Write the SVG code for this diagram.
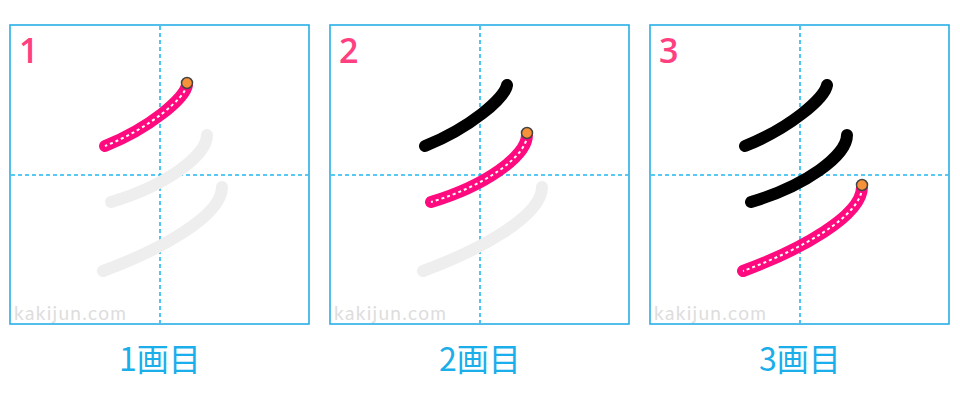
<svg xmlns="http://www.w3.org/2000/svg" width="960" height="408" viewBox="0 0 960 408">
<defs>
<style>
.frame{fill:#fff;stroke:#29aee6;stroke-width:1.6}
.guide{stroke:#22b8f0;stroke-width:1.6;stroke-dasharray:4,3;fill:none}
.gray{stroke:#eeeeee;stroke-width:12;fill:none;stroke-linecap:round}
.done{stroke:#000;stroke-width:12;fill:none;stroke-linecap:round}
.cur{stroke:#ff0a7f;stroke-width:12;fill:none;stroke-linecap:round}
.dash{stroke:#fff;stroke-width:2;fill:none;stroke-dasharray:3,3}
.dot{fill:#f7913a;stroke:#444;stroke-width:1.5}
.num{font-family:"Open Sans","Liberation Sans",sans-serif;font-size:34px;fill:#ff3f7f;font-weight:600}
.wm{font-family:"Lato","Liberation Sans",sans-serif;font-size:19px;fill:#dddddd}
.cap{font-family:"Noto Sans CJK JP","Noto Sans",sans-serif;font-size:32px;fill:#1aaeea}
</style>
<path id="s1" d="M187,85 C185,98 150,128 105,146"/>
<path id="s2" d="M207,135 C207,156 165,186 111,202"/>
<path id="s3" d="M222,187 C222,216 160,250 103,271"/>
</defs>
<rect width="960" height="408" fill="#fff"/>
<g id="panel1">
<rect class="frame" x="10" y="25" width="299" height="299"/>
<line class="guide" x1="160" y1="26" x2="160" y2="323"/>
<line class="guide" x1="11" y1="175" x2="308" y2="175"/>
<text class="wm" x="14" y="320" textLength="112">kakijun.com</text>
<text class="num" x="19" y="63">1</text>
<use href="#s2" class="gray"/>
<use href="#s3" class="gray"/>
<use href="#s1" class="cur"/>
<use href="#s1" class="dash"/>
<circle class="dot" cx="187" cy="83" r="5.5"/>
<text class="cap" x="160" y="371" text-anchor="middle">1画目</text>
</g>
<g id="panel2" transform="translate(320,0)">
<rect class="frame" x="10" y="25" width="299" height="299"/>
<line class="guide" x1="160" y1="26" x2="160" y2="323"/>
<line class="guide" x1="11" y1="175" x2="308" y2="175"/>
<text class="wm" x="14" y="320" textLength="112">kakijun.com</text>
<text class="num" x="19" y="63">2</text>
<use href="#s3" class="gray"/>
<use href="#s1" class="done"/>
<use href="#s2" class="cur"/>
<use href="#s2" class="dash"/>
<circle class="dot" cx="207" cy="133" r="5.5"/>
<text class="cap" x="160" y="371" text-anchor="middle">2画目</text>
</g>
<g id="panel3" transform="translate(640,0)">
<rect class="frame" x="10" y="25" width="299" height="299"/>
<line class="guide" x1="160" y1="26" x2="160" y2="323"/>
<line class="guide" x1="11" y1="175" x2="308" y2="175"/>
<text class="wm" x="14" y="320" textLength="112">kakijun.com</text>
<text class="num" x="19" y="63">3</text>
<use href="#s1" class="done"/>
<use href="#s2" class="done"/>
<use href="#s3" class="cur"/>
<use href="#s3" class="dash"/>
<circle class="dot" cx="222" cy="185" r="5.5"/>
<text class="cap" x="160" y="371" text-anchor="middle">3画目</text>
</g>
<g id="connectors"/>
</svg>
